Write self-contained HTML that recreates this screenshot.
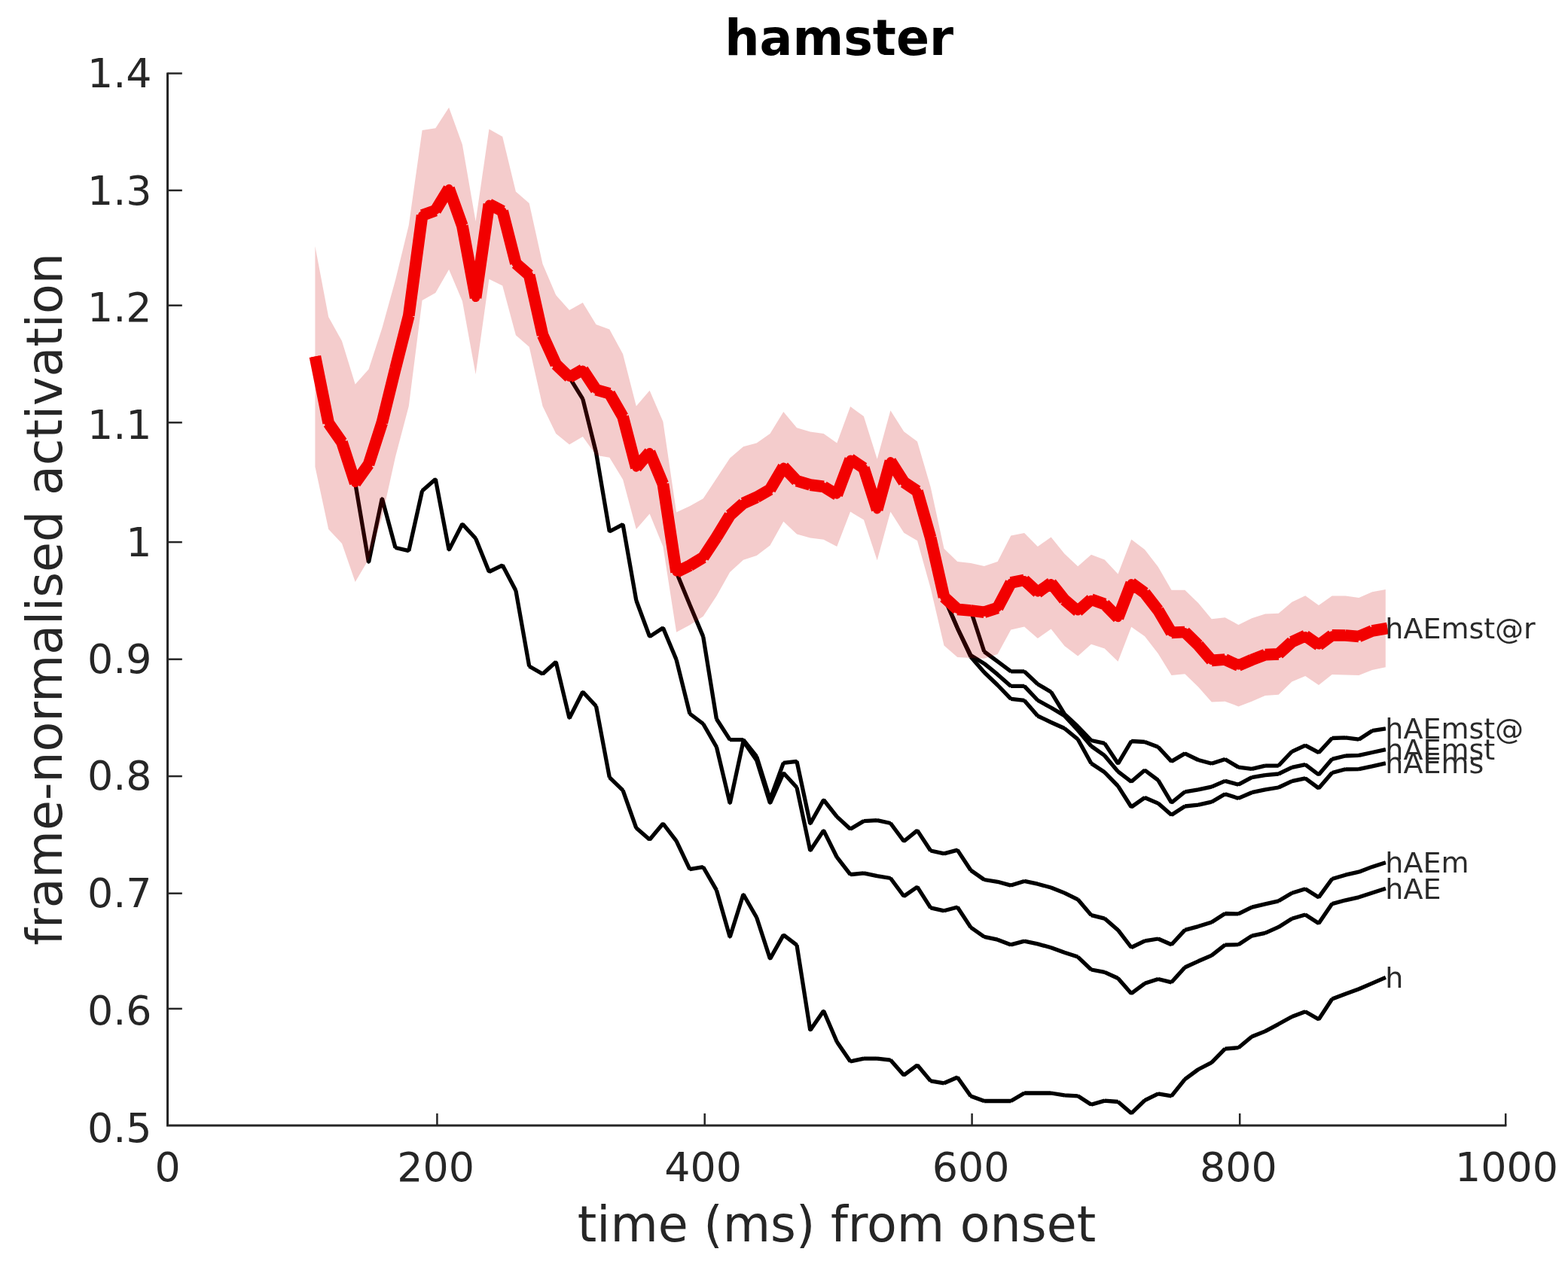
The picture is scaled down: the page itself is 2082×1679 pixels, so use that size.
<!DOCTYPE html>
<html lang="en">
<head>
<meta charset="utf-8">
<title>hamster</title>
<style>
html,body{margin:0;padding:0;background:#fff;}
body{width:2082px;height:1679px;overflow:hidden;}
svg{display:block;}
.soft{filter:blur(0.6px);}
text{font-family:"DejaVu Sans","Liberation Sans",sans-serif;}
.tick{font-size:53.8px;fill:#262626;}
.lab{font-size:65px;fill:#262626;}
.title{font-size:65px;font-weight:bold;fill:#000;}
.end{font-size:38px;fill:#2b2b2b;}
.bl{fill:none;stroke:#000;stroke-width:5.3;stroke-linecap:butt;}
.red{fill:none;stroke:#f20000;stroke-width:15.7;stroke-linecap:butt;}
.blin{stroke-width:3.6;stroke-linejoin:round;}
.redin{fill:none;stroke:#f20000;stroke-width:11;stroke-linejoin:round;stroke-linecap:butt;}
.ax{fill:none;stroke:#262626;stroke-width:3;stroke-linecap:butt;stroke-linejoin:miter;}
.tk{fill:none;stroke:#262626;stroke-width:2.5;stroke-linecap:butt;}
</style>
</head>
<body>
<svg width="2082" height="1679" viewBox="0 0 2082 1679">
<rect x="0" y="0" width="2082" height="1679" fill="#ffffff"/>
<g class="soft">
<g class="bl">
<path d="M471.7 641.8L489.5 747M489.5 747L507.3 662M507.3 662L525 727.5M525 727.5L542.8 731.6M542.8 731.6L560.6 651.9M560.6 651.9L578.3 636.5M578.3 636.5L596.1 730.6M596.1 730.6L613.9 696M613.9 696L631.6 715.3M631.6 715.3L649.4 759.5M649.4 759.5L667.2 750.8M667.2 750.8L684.9 784.4M684.9 784.4L702.7 885M702.7 885L720.5 895.2M720.5 895.2L738.2 879.3M738.2 879.3L756 954M756 954L773.8 919M773.8 919L791.5 938M791.5 938L809.3 1032.6M809.3 1032.6L827.1 1049.9M827.1 1049.9L844.8 1099.8M844.8 1099.8L862.6 1115.2M862.6 1115.2L880.4 1094M880.4 1094L898.1 1117.1M898.1 1117.1L915.9 1154.6M915.9 1154.6L933.7 1151.7M933.7 1151.7L951.4 1182.4M951.4 1182.4L969.2 1244.8M969.2 1244.8L987 1188M987 1188L1004.7 1218.8M1004.7 1218.8L1022.5 1273.6M1022.5 1273.6L1040.3 1241.9M1040.3 1241.9L1058 1255.3M1058 1255.3L1075.8 1368.5M1075.8 1368.5L1093.6 1342.7M1093.6 1342.7L1111.3 1384M1111.3 1384L1129.1 1410M1129.1 1410L1146.9 1406.1M1146.9 1406.1L1164.7 1406.1M1164.7 1406.1L1182.4 1408.1M1182.4 1408.1L1200.2 1428.2M1200.2 1428.2L1218 1414.8M1218 1414.8L1235.7 1435.9M1235.7 1435.9L1253.5 1438.8M1253.5 1438.8L1271.3 1431M1271.3 1431L1289 1456M1289 1456L1306.8 1462.5M1306.8 1462.5L1324.6 1462.5M1324.6 1462.5L1342.3 1462.5M1342.3 1462.5L1360.1 1452M1360.1 1452L1377.9 1452M1377.9 1452L1395.6 1452M1395.6 1452L1413.4 1454.8M1413.4 1454.8L1431.2 1455.8M1431.2 1455.8L1448.9 1467.3M1448.9 1467.3L1466.7 1462.1M1466.7 1462.1L1484.5 1463.5M1484.5 1463.5L1502.2 1478.8M1502.2 1478.8L1520 1461.6M1520 1461.6L1537.8 1452.9M1537.8 1452.9L1555.5 1455.8M1555.5 1455.8L1573.3 1433.7M1573.3 1433.7L1591.1 1420.5M1591.1 1420.5L1608.8 1411.4M1608.8 1411.4L1626.6 1393.2M1626.6 1393.2L1644.4 1391.7M1644.4 1391.7L1662.1 1377M1662.1 1377L1679.9 1369.9M1679.9 1369.9L1697.7 1360.3M1697.7 1360.3L1715.4 1350.5M1715.4 1350.5L1733.2 1343.8M1733.2 1343.8L1751 1354M1751 1354L1768.7 1327M1768.7 1327L1786.5 1320.2M1786.5 1320.2L1804.3 1313.8M1804.3 1313.8L1822 1306.1M1822 1306.1L1839.8 1298.4"/>
<polyline class="blin" points="471.7,641.8 489.5,747 507.3,662 525,727.5 542.8,731.6 560.6,651.9 578.3,636.5 596.1,730.6 613.9,696 631.6,715.3 649.4,759.5 667.2,750.8 684.9,784.4 702.7,885 720.5,895.2 738.2,879.3 756,954 773.8,919 791.5,938 809.3,1032.6 827.1,1049.9 844.8,1099.8 862.6,1115.2 880.4,1094 898.1,1117.1 915.9,1154.6 933.7,1151.7 951.4,1182.4 969.2,1244.8 987,1188 1004.7,1218.8 1022.5,1273.6 1040.3,1241.9 1058,1255.3 1075.8,1368.5 1093.6,1342.7 1111.3,1384 1129.1,1410 1146.9,1406.1 1164.7,1406.1 1182.4,1408.1 1200.2,1428.2 1218,1414.8 1235.7,1435.9 1253.5,1438.8 1271.3,1431 1289,1456 1306.8,1462.5 1324.6,1462.5 1342.3,1462.5 1360.1,1452 1377.9,1452 1395.6,1452 1413.4,1454.8 1431.2,1455.8 1448.9,1467.3 1466.7,1462.1 1484.5,1463.5 1502.2,1478.8 1520,1461.6 1537.8,1452.9 1555.5,1455.8 1573.3,1433.7 1591.1,1420.5 1608.8,1411.4 1626.6,1393.2 1644.4,1391.7 1662.1,1377 1679.9,1369.9 1697.7,1360.3 1715.4,1350.5 1733.2,1343.8 1751,1354 1768.7,1327 1786.5,1320.2 1804.3,1313.8 1822,1306.1 1839.8,1298.4"/>
<path d="M756 501.2L773.8 529.9M773.8 529.9L791.5 601M791.5 601L809.3 706M809.3 706L827.1 696.7M827.1 696.7L844.8 797.5M844.8 797.5L862.6 845.6M862.6 845.6L880.4 834M880.4 834L898.1 876.3M898.1 876.3L915.9 948M915.9 948L933.7 961.5M933.7 961.5L951.4 992.2M951.4 992.2L969.2 1067.1M969.2 1067.1L987 984.5M987 984.5L1004.7 1010M1004.7 1010L1022.5 1067M1022.5 1067L1040.3 1026.8M1040.3 1026.8L1058 1046M1058 1046L1075.8 1130M1075.8 1130L1093.6 1103.1M1093.6 1103.1L1111.3 1138.7M1111.3 1138.7L1129.1 1161.7M1129.1 1161.7L1146.9 1159.8M1146.9 1159.8L1164.7 1163.7M1164.7 1163.7L1182.4 1166.5M1182.4 1166.5L1200.2 1190.5M1200.2 1190.5L1218 1178.1M1218 1178.1L1235.7 1205.9M1235.7 1205.9L1253.5 1209.8M1253.5 1209.8L1271.3 1205M1271.3 1205L1289 1231.9M1289 1231.9L1306.8 1244.3M1306.8 1244.3L1324.6 1248.2M1324.6 1248.2L1342.3 1254.9M1342.3 1254.9L1360.1 1250.1M1360.1 1250.1L1377.9 1253.9M1377.9 1253.9L1395.6 1258.8M1395.6 1258.8L1413.4 1265.3M1413.4 1265.3L1431.2 1271.1M1431.2 1271.1L1448.9 1288M1448.9 1288L1466.7 1291.3M1466.7 1291.3L1484.5 1299.5M1484.5 1299.5L1502.2 1319.7M1502.2 1319.7L1520 1306.3M1520 1306.3L1537.8 1300.5M1537.8 1300.5L1555.5 1304.8M1555.5 1304.8L1573.3 1285M1573.3 1285L1591.1 1276.8M1591.1 1276.8L1608.8 1269.1M1608.8 1269.1L1626.6 1255.2M1626.6 1255.2L1644.4 1254.7M1644.4 1254.7L1662.1 1243.1M1662.1 1243.1L1679.9 1239.3M1679.9 1239.3L1697.7 1231.4M1697.7 1231.4L1715.4 1220.3M1715.4 1220.3L1733.2 1215M1733.2 1215L1751 1226.4M1751 1226.4L1768.7 1200.6M1768.7 1200.6L1786.5 1195.8M1786.5 1195.8L1804.3 1191.8M1804.3 1191.8L1822 1186M1822 1186L1839.8 1180.3"/>
<polyline class="blin" points="756,501.2 773.8,529.9 791.5,601 809.3,706 827.1,696.7 844.8,797.5 862.6,845.6 880.4,834 898.1,876.3 915.9,948 933.7,961.5 951.4,992.2 969.2,1067.1 987,984.5 1004.7,1010 1022.5,1067 1040.3,1026.8 1058,1046 1075.8,1130 1093.6,1103.1 1111.3,1138.7 1129.1,1161.7 1146.9,1159.8 1164.7,1163.7 1182.4,1166.5 1200.2,1190.5 1218,1178.1 1235.7,1205.9 1253.5,1209.8 1271.3,1205 1289,1231.9 1306.8,1244.3 1324.6,1248.2 1342.3,1254.9 1360.1,1250.1 1377.9,1253.9 1395.6,1258.8 1413.4,1265.3 1431.2,1271.1 1448.9,1288 1466.7,1291.3 1484.5,1299.5 1502.2,1319.7 1520,1306.3 1537.8,1300.5 1555.5,1304.8 1573.3,1285 1591.1,1276.8 1608.8,1269.1 1626.6,1255.2 1644.4,1254.7 1662.1,1243.1 1679.9,1239.3 1697.7,1231.4 1715.4,1220.3 1733.2,1215 1751,1226.4 1768.7,1200.6 1786.5,1195.8 1804.3,1191.8 1822,1186 1839.8,1180.3"/>
<path d="M898.1 760.1L915.9 803.3M915.9 803.3L933.7 845.6M933.7 845.6L951.4 955M951.4 955L969.2 982.6M969.2 982.6L987 982.6M987 982.6L1004.7 1005M1004.7 1005L1022.5 1062M1022.5 1062L1040.3 1013.4M1040.3 1013.4L1058 1011.4M1058 1011.4L1075.8 1094.3M1075.8 1094.3L1093.6 1062.5M1093.6 1062.5L1111.3 1084.9M1111.3 1084.9L1129.1 1101.2M1129.1 1101.2L1146.9 1090.6M1146.9 1090.6L1164.7 1089.7M1164.7 1089.7L1182.4 1093.5M1182.4 1093.5L1200.2 1117.5M1200.2 1117.5L1218 1103.1M1218 1103.1L1235.7 1130M1235.7 1130L1253.5 1133.9M1253.5 1133.9L1271.3 1129.1M1271.3 1129.1L1289 1156M1289 1156L1306.8 1168.5M1306.8 1168.5L1324.6 1171.3M1324.6 1171.3L1342.3 1176.1M1342.3 1176.1L1360.1 1170.4M1360.1 1170.4L1377.9 1174.2M1377.9 1174.2L1395.6 1179M1395.6 1179L1413.4 1186.1M1413.4 1186.1L1431.2 1194.8M1431.2 1194.8L1448.9 1215.6M1448.9 1215.6L1466.7 1220.1M1466.7 1220.1L1484.5 1235.4M1484.5 1235.4L1502.2 1258.5M1502.2 1258.5L1520 1249.9M1520 1249.9L1537.8 1247M1537.8 1247L1555.5 1254.7M1555.5 1254.7L1573.3 1235.4M1573.3 1235.4L1591.1 1230.6M1591.1 1230.6L1608.8 1224.9M1608.8 1224.9L1626.6 1213.5M1626.6 1213.5L1644.4 1213.9M1644.4 1213.9L1662.1 1205.1M1662.1 1205.1L1679.9 1200.8M1679.9 1200.8L1697.7 1196.8M1697.7 1196.8L1715.4 1186.3M1715.4 1186.3L1733.2 1180.8M1733.2 1180.8L1751 1191.9M1751 1191.9L1768.7 1167.5M1768.7 1167.5L1786.5 1162.2M1786.5 1162.2L1804.3 1158.2M1804.3 1158.2L1822 1151.4M1822 1151.4L1839.8 1145.7"/>
<polyline class="blin" points="898.1,760.1 915.9,803.3 933.7,845.6 951.4,955 969.2,982.6 987,982.6 1004.7,1005 1022.5,1062 1040.3,1013.4 1058,1011.4 1075.8,1094.3 1093.6,1062.5 1111.3,1084.9 1129.1,1101.2 1146.9,1090.6 1164.7,1089.7 1182.4,1093.5 1200.2,1117.5 1218,1103.1 1235.7,1130 1253.5,1133.9 1271.3,1129.1 1289,1156 1306.8,1168.5 1324.6,1171.3 1342.3,1176.1 1360.1,1170.4 1377.9,1174.2 1395.6,1179 1413.4,1186.1 1431.2,1194.8 1448.9,1215.6 1466.7,1220.1 1484.5,1235.4 1502.2,1258.5 1520,1249.9 1537.8,1247 1555.5,1254.7 1573.3,1235.4 1591.1,1230.6 1608.8,1224.9 1626.6,1213.5 1644.4,1213.9 1662.1,1205.1 1679.9,1200.8 1697.7,1196.8 1715.4,1186.3 1733.2,1180.8 1751,1191.9 1768.7,1167.5 1786.5,1162.2 1804.3,1158.2 1822,1151.4 1839.8,1145.7"/>
<path d="M1253.5 793.1L1271.3 834.3M1271.3 834.3L1289 872.5M1289 872.5L1306.8 893M1306.8 893L1324.6 910M1324.6 910L1342.3 928.3M1342.3 928.3L1360.1 930.4M1360.1 930.4L1377.9 951M1377.9 951L1395.6 959.5M1395.6 959.5L1413.4 967.5M1413.4 967.5L1431.2 982M1431.2 982L1448.9 1014M1448.9 1014L1466.7 1025.8M1466.7 1025.8L1484.5 1044.1M1484.5 1044.1L1502.2 1072M1502.2 1072L1520 1059.5M1520 1059.5L1537.8 1067.1M1537.8 1067.1L1555.5 1082.5M1555.5 1082.5L1573.3 1071M1573.3 1071L1591.1 1069.1M1591.1 1069.1L1608.8 1065.2M1608.8 1065.2L1626.6 1054.7M1626.6 1054.7L1644.4 1060.4M1644.4 1060.4L1662.1 1052.7M1662.1 1052.7L1679.9 1048.9M1679.9 1048.9L1697.7 1046M1697.7 1046L1715.4 1037.7M1715.4 1037.7L1733.2 1033.8M1733.2 1033.8L1751 1047M1751 1047L1768.7 1026.5M1768.7 1026.5L1786.5 1021.8M1786.5 1021.8L1804.3 1021.6M1804.3 1021.6L1822 1017.8M1822 1017.8L1839.8 1013.9"/>
<polyline class="blin" points="1253.5,793.1 1271.3,834.3 1289,872.5 1306.8,893 1324.6,910 1342.3,928.3 1360.1,930.4 1377.9,951 1395.6,959.5 1413.4,967.5 1431.2,982 1448.9,1014 1466.7,1025.8 1484.5,1044.1 1502.2,1072 1520,1059.5 1537.8,1067.1 1555.5,1082.5 1573.3,1071 1591.1,1069.1 1608.8,1065.2 1626.6,1054.7 1644.4,1060.4 1662.1,1052.7 1679.9,1048.9 1697.7,1046 1715.4,1037.7 1733.2,1033.8 1751,1047 1768.7,1026.5 1786.5,1021.8 1804.3,1021.6 1822,1017.8 1839.8,1013.9"/>
<path d="M1253.5 793.1L1271.3 834.3M1271.3 834.3L1289 870.5M1289 870.5L1306.8 881.4M1306.8 881.4L1324.6 895.9M1324.6 895.9L1342.3 911.4M1342.3 911.4L1360.1 911.4M1360.1 911.4L1377.9 930.3M1377.9 930.3L1395.6 940M1395.6 940L1413.4 950.6M1413.4 950.6L1431.2 970M1431.2 970L1448.9 991M1448.9 991L1466.7 1003.7M1466.7 1003.7L1484.5 1024.9M1484.5 1024.9L1502.2 1038.3M1502.2 1038.3L1520 1023M1520 1023L1537.8 1036.4M1537.8 1036.4L1555.5 1066.2M1555.5 1066.2L1573.3 1051.8M1573.3 1051.8L1591.1 1048.9M1591.1 1048.9L1608.8 1045.1M1608.8 1045.1L1626.6 1037.4M1626.6 1037.4L1644.4 1042.2M1644.4 1042.2L1662.1 1032.6M1662.1 1032.6L1679.9 1029.7M1679.9 1029.7L1697.7 1028M1697.7 1028L1715.4 1019.4M1715.4 1019.4L1733.2 1015.6M1733.2 1015.6L1751 1029M1751 1029L1768.7 1008.3M1768.7 1008.3L1786.5 1004M1786.5 1004L1804.3 1003.4M1804.3 1003.4L1822 999.5M1822 999.5L1839.8 995.7"/>
<polyline class="blin" points="1253.5,793.1 1271.3,834.3 1289,870.5 1306.8,881.4 1324.6,895.9 1342.3,911.4 1360.1,911.4 1377.9,930.3 1395.6,940 1413.4,950.6 1431.2,970 1448.9,991 1466.7,1003.7 1484.5,1024.9 1502.2,1038.3 1520,1023 1537.8,1036.4 1555.5,1066.2 1573.3,1051.8 1591.1,1048.9 1608.8,1045.1 1626.6,1037.4 1644.4,1042.2 1662.1,1032.6 1679.9,1029.7 1697.7,1028 1715.4,1019.4 1733.2,1015.6 1751,1029 1768.7,1008.3 1786.5,1004 1804.3,1003.4 1822,999.5 1839.8,995.7"/>
<path d="M1289 811L1306.8 865.5M1306.8 865.5L1324.6 878.7M1324.6 878.7L1342.3 891.9M1342.3 891.9L1360.1 891.9M1360.1 891.9L1377.9 908.7M1377.9 908.7L1395.6 919.2M1395.6 919.2L1413.4 948.5M1413.4 948.5L1431.2 965M1431.2 965L1448.9 983.5M1448.9 983.5L1466.7 987.4M1466.7 987.4L1484.5 1014.3M1484.5 1014.3L1502.2 984.5M1502.2 984.5L1520 985.5M1520 985.5L1537.8 992.2M1537.8 992.2L1555.5 1011.4M1555.5 1011.4L1573.3 1000.9M1573.3 1000.9L1591.1 1009.5M1591.1 1009.5L1608.8 1014.3M1608.8 1014.3L1626.6 1008.5M1626.6 1008.5L1644.4 1019.1M1644.4 1019.1L1662.1 1021.4M1662.1 1021.4L1679.9 1017.2M1679.9 1017.2L1697.7 1017M1697.7 1017L1715.4 998.3M1715.4 998.3L1733.2 990.1M1733.2 990.1L1751 999.7M1751 999.7L1768.7 980.5M1768.7 980.5L1786.5 979.8M1786.5 979.8L1804.3 982.2M1804.3 982.2L1822 970.7M1822 970.7L1839.8 967.8"/>
<polyline class="blin" points="1289,811 1306.8,865.5 1324.6,878.7 1342.3,891.9 1360.1,891.9 1377.9,908.7 1395.6,919.2 1413.4,948.5 1431.2,965 1448.9,983.5 1466.7,987.4 1484.5,1014.3 1502.2,984.5 1520,985.5 1537.8,992.2 1555.5,1011.4 1573.3,1000.9 1591.1,1009.5 1608.8,1014.3 1626.6,1008.5 1644.4,1019.1 1662.1,1021.4 1679.9,1017.2 1697.7,1017 1715.4,998.3 1733.2,990.1 1751,999.7 1768.7,980.5 1786.5,979.8 1804.3,982.2 1822,970.7 1839.8,967.8"/>
</g>
<polygon fill="#c80000" fill-opacity="0.2" points="418.4,327 436.2,421 454,453 471.7,510.6 489.5,490.5 507.3,436 525,372 542.8,299 560.6,173 578.3,170.3 596.1,142.7 613.9,192 631.6,294 649.4,171.5 667.2,181.5 684.9,254.5 702.7,270 720.5,350.5 738.2,392 756,412 773.8,402 791.5,430.9 809.3,437.6 827.1,470.3 844.8,539.5 862.6,518.7 880.4,560 898.1,680.5 915.9,672.3 933.7,662.2 951.4,635.5 969.2,608.6 987,593.3 1004.7,588.5 1022.5,576 1040.3,547.1 1058,568.3 1075.8,573.6 1093.6,576 1111.3,588.5 1129.1,540 1146.9,553 1164.7,609.7 1182.4,545.3 1200.2,573.2 1218,586.6 1235.7,647.1 1253.5,728.8 1271.3,745.9 1289,748 1306.8,751.9 1324.6,746.1 1342.3,711.5 1360.1,708.1 1377.9,726 1395.6,713.4 1413.4,735.6 1431.2,752.2 1448.9,736.8 1466.7,743.4 1484.5,762.6 1502.2,716.5 1520,730 1537.8,753 1555.5,783.7 1573.3,783.7 1591.1,801 1608.8,822.2 1626.6,820.2 1644.4,829.9 1662.1,821.2 1679.9,815.4 1697.7,814.8 1715.4,799.8 1733.2,791.2 1751,804 1768.7,791.5 1786.5,791.5 1804.3,794 1822,786.3 1839.8,783 1839.8,886.2 1822,890 1804.3,896.9 1786.5,896.5 1768.7,896 1751,909.9 1733.2,897.9 1715.4,905.5 1697.7,922.8 1679.9,924 1662.1,931.7 1644.4,938.4 1626.6,931.7 1608.8,932.6 1591.1,912.5 1573.3,895.2 1555.5,897.1 1537.8,868.3 1520,845.2 1502.2,832.7 1484.5,878.8 1466.7,861.6 1448.9,855.7 1431.2,871.6 1413.4,858 1395.6,835.4 1377.9,848 1360.1,832.6 1342.3,836.4 1324.6,869 1306.8,874.8 1289,873.9 1271.3,872.9 1253.5,857.5 1235.7,781.6 1218,718.2 1200.2,707.7 1182.4,679.8 1164.7,744.2 1146.9,690.4 1129.1,679.8 1111.3,725.9 1093.6,716.8 1075.8,714.6 1058,709.4 1040.3,692.8 1022.5,724.5 1004.7,738 987,743.7 969.2,760 951.4,791.8 933.7,818.7 915.9,830.2 898.1,839.8 880.4,726 862.6,682.4 844.8,703 827.1,637 809.3,607.7 791.5,604.8 773.8,580 756,590.4 738.2,576 720.5,539.5 702.7,460.7 684.9,445.3 667.2,379.4 649.4,370.7 631.6,497.2 613.9,400 596.1,358 578.3,389 560.6,399 542.8,539.5 525,607 507.3,687 489.5,743 471.7,772.9 454,722 436.2,703 418.4,620"/>
<polyline class="redin" points="418.4,473.5 436.2,562 454,587.5 471.7,641.8 489.5,616.8 507.3,561.5 525,489.5 542.8,419.2 560.6,286 578.3,279.6 596.1,250.3 613.9,300 631.6,395.6 649.4,271.1 667.2,280.4 684.9,349.9 702.7,365.4 720.5,445 738.2,484 756,501.2 773.8,491 791.5,517.8 809.3,522.7 827.1,553.6 844.8,621.2 862.6,600.5 880.4,643 898.1,760.1 915.9,751.2 933.7,740.5 951.4,713.6 969.2,684.3 987,668.5 1004.7,660.5 1022.5,650.2 1040.3,620 1058,638.8 1075.8,644.1 1093.6,646.4 1111.3,657.2 1129.1,609.9 1146.9,621.7 1164.7,677 1182.4,612.5 1200.2,640.5 1218,652.4 1235.7,714.4 1253.5,793.1 1271.3,809.4 1289,811 1306.8,813.3 1324.6,807.5 1342.3,774 1360.1,770.4 1377.9,787 1395.6,774.4 1413.4,796.8 1431.2,811.9 1448.9,796.2 1466.7,802.5 1484.5,820.7 1502.2,774.6 1520,787.6 1537.8,810.6 1555.5,840.4 1573.3,839.5 1591.1,856.8 1608.8,877.4 1626.6,876 1644.4,884.1 1662.1,876.5 1679.9,869.7 1697.7,868.8 1715.4,852.6 1733.2,844.5 1751,857 1768.7,843.8 1786.5,844 1804.3,845.5 1822,838.1 1842.3,834.6"/>
<path class="red" d="M418.4 473.5L436.2 562M436.2 562L454 587.5M454 587.5L471.7 641.8M471.7 641.8L489.5 616.8M489.5 616.8L507.3 561.5M507.3 561.5L525 489.5M525 489.5L542.8 419.2M542.8 419.2L560.6 286M560.6 286L578.3 279.6M578.3 279.6L596.1 250.3M596.1 250.3L613.9 300M613.9 300L631.6 395.6M631.6 395.6L649.4 271.1M649.4 271.1L667.2 280.4M667.2 280.4L684.9 349.9M684.9 349.9L702.7 365.4M702.7 365.4L720.5 445M720.5 445L738.2 484M738.2 484L756 501.2M756 501.2L773.8 491M773.8 491L791.5 517.8M791.5 517.8L809.3 522.7M809.3 522.7L827.1 553.6M827.1 553.6L844.8 621.2M844.8 621.2L862.6 600.5M862.6 600.5L880.4 643M880.4 643L898.1 760.1M898.1 760.1L915.9 751.2M915.9 751.2L933.7 740.5M933.7 740.5L951.4 713.6M951.4 713.6L969.2 684.3M969.2 684.3L987 668.5M987 668.5L1004.7 660.5M1004.7 660.5L1022.5 650.2M1022.5 650.2L1040.3 620M1040.3 620L1058 638.8M1058 638.8L1075.8 644.1M1075.8 644.1L1093.6 646.4M1093.6 646.4L1111.3 657.2M1111.3 657.2L1129.1 609.9M1129.1 609.9L1146.9 621.7M1146.9 621.7L1164.7 677M1164.7 677L1182.4 612.5M1182.4 612.5L1200.2 640.5M1200.2 640.5L1218 652.4M1218 652.4L1235.7 714.4M1235.7 714.4L1253.5 793.1M1253.5 793.1L1271.3 809.4M1271.3 809.4L1289 811M1289 811L1306.8 813.3M1306.8 813.3L1324.6 807.5M1324.6 807.5L1342.3 774M1342.3 774L1360.1 770.4M1360.1 770.4L1377.9 787M1377.9 787L1395.6 774.4M1395.6 774.4L1413.4 796.8M1413.4 796.8L1431.2 811.9M1431.2 811.9L1448.9 796.2M1448.9 796.2L1466.7 802.5M1466.7 802.5L1484.5 820.7M1484.5 820.7L1502.2 774.6M1502.2 774.6L1520 787.6M1520 787.6L1537.8 810.6M1537.8 810.6L1555.5 840.4M1555.5 840.4L1573.3 839.5M1573.3 839.5L1591.1 856.8M1591.1 856.8L1608.8 877.4M1608.8 877.4L1626.6 876M1626.6 876L1644.4 884.1M1644.4 884.1L1662.1 876.5M1662.1 876.5L1679.9 869.7M1679.9 869.7L1697.7 868.8M1697.7 868.8L1715.4 852.6M1715.4 852.6L1733.2 844.5M1733.2 844.5L1751 857M1751 857L1768.7 843.8M1768.7 843.8L1786.5 844M1786.5 844L1804.3 845.5M1804.3 845.5L1822 838.1M1822 838.1L1842.3 834.6"/>
<g class="ax">
<path d="M222.5 96.5 V1495 H2000.4"/>
</g>
<g class="tk">
<path d="M580.4 1495 v-16"/>
<path d="M935.7 1495 v-16"/>
<path d="M1290.6 1495 v-16"/>
<path d="M1646.2 1495 v-16"/>
<path d="M1999.2 1495 v-16"/>
<path d="M222.5 1339.9 h19.3"/>
<path d="M222.5 1186.7 h19.3"/>
<path d="M222.5 1031.1 h19.3"/>
<path d="M222.5 875.7 h19.3"/>
<path d="M222.5 720.1 h19.3"/>
<path d="M222.5 561.3 h19.3"/>
<path d="M222.5 405.7 h19.3"/>
<path d="M222.5 252.9 h19.3"/>
<path d="M222.5 97.5 h19.3"/>
</g>
<g class="tick" text-anchor="middle">
<text x="222.5" y="1569">0</text>
<text x="578.6" y="1569">200</text>
<text x="933.6" y="1569">400</text>
<text x="1289.2" y="1569">600</text>
<text x="1644.4" y="1569">800</text>
<text x="2000.5" y="1569">1000</text>
</g>
<g class="tick" text-anchor="end">
<text x="201.5" y="1516.5">0.5</text>
<text x="201.5" y="1360.8">0.6</text>
<text x="201.5" y="1205.2">0.7</text>
<text x="201.5" y="1049.3">0.8</text>
<text x="201.5" y="894.4">0.9</text>
<text x="201.5" y="738.8">1</text>
<text x="201.5" y="582.8">1.1</text>
<text x="201.5" y="427.2">1.2</text>
<text x="201.5" y="271.5">1.3</text>
<text x="201.5" y="116">1.4</text>
</g>
<text class="lab" text-anchor="middle" x="1111" y="1649.3">time (ms) from onset</text>
<text class="lab" text-anchor="middle" transform="translate(82 796) rotate(-90)">frame-normalised activation</text>
<text class="title" text-anchor="middle" x="1114.2" y="72.6">hamster</text>
<g class="end">
<text x="1839.3" y="847.8">hAEmst@r</text>
<text x="1839.3" y="1311.6">h</text>
<text x="1839.3" y="1193.5">hAE</text>
<text x="1839.3" y="1158.9">hAEm</text>
<text x="1839.3" y="1027.1">hAEms</text>
<text x="1839.3" y="1008.9">hAEmst</text>
<text x="1839.3" y="981">hAEmst@</text>
</g>
</g>
</svg>
</body>
</html>
